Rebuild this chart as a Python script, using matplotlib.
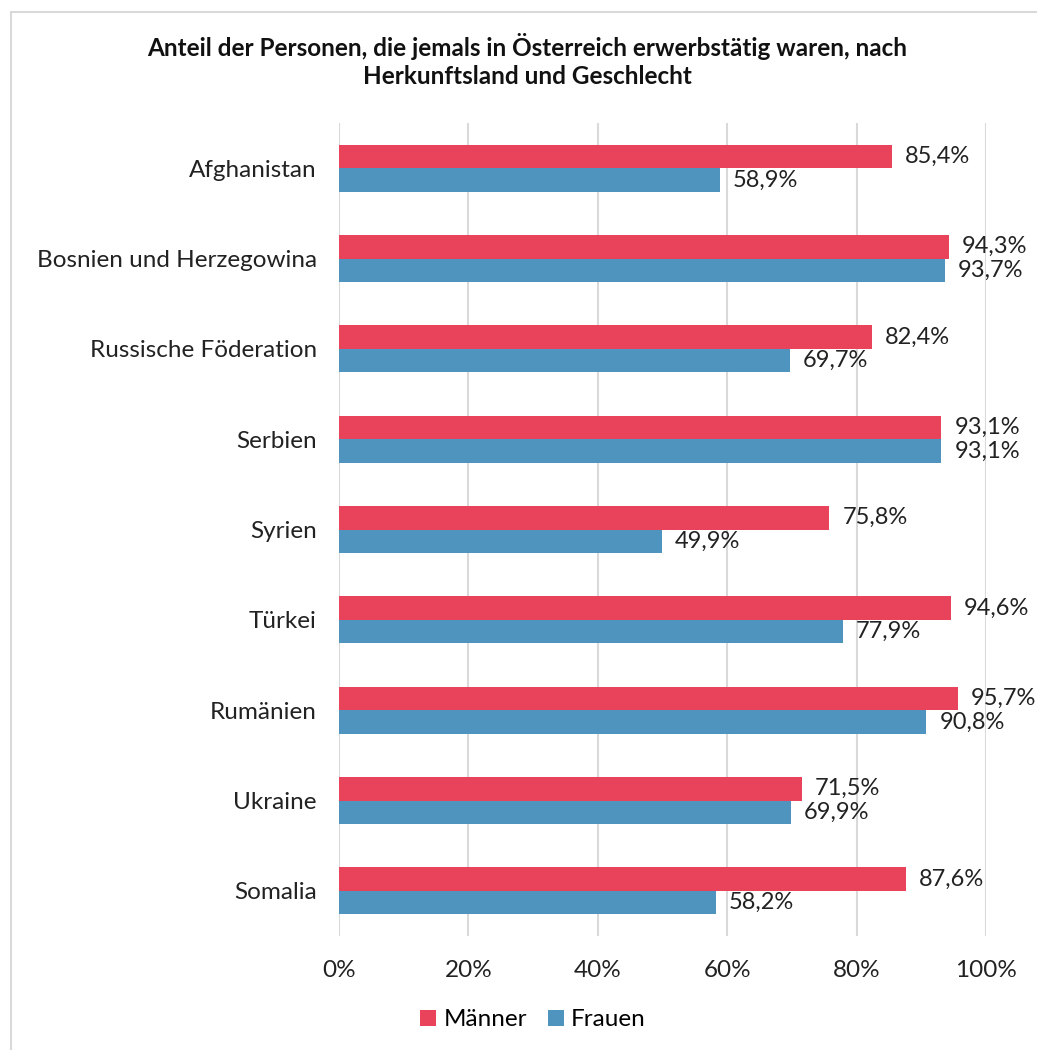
import matplotlib
matplotlib.use("Agg")
import matplotlib.pyplot as plt
from matplotlib.patches import Rectangle
import numpy as np

plt.rcParams['font.family'] = ['Lato', 'DejaVu Sans']

categories = ["Afghanistan", "Bosnien und Herzegowina", "Russische Föderation", "Serbien",
              "Syrien", "Türkei", "Rumänien", "Ukraine", "Somalia"]
maenner = [85.4, 94.3, 82.4, 93.1, 75.8, 94.6, 95.7, 71.5, 87.6]
frauen = [58.9, 93.7, 69.7, 93.1, 49.9, 77.9, 90.8, 69.9, 58.2]
xticks = [0, 20, 40, 60, 80, 100]
series_names = ["Männer", "Frauen"]

red = "#E8435A"
blue = "#4F94BE"
FS = 17.5
W, H = 1037, 1050
fig = plt.figure(figsize=(W / 100, H / 100), dpi=100)
ax = fig.add_axes([339 / W, 1 - 936 / H, (986 - 339) / W, (936 - 123) / H])

y = np.arange(len(categories))
bh = 0.26
ax.barh(y - bh / 2, maenner, height=bh, color=red, label=series_names[0], zorder=3)
ax.barh(y + bh / 2, frauen, height=bh, color=blue, label=series_names[1], zorder=3)

def fmt(v):
    return f"{v:.1f}%".replace(".", ",")

for i in range(len(categories)):
    ax.text(maenner[i] + 2.0, y[i] - bh / 2, fmt(maenner[i]), va="center", ha="left",
            fontsize=17, color="#222222", zorder=4)
    ax.text(frauen[i] + 2.0, y[i] + bh / 2, fmt(frauen[i]), va="center", ha="left",
            fontsize=17, color="#222222", zorder=4)

ax.set_ylim(len(categories) - 0.5, -0.5)
ax.set_xlim(0, 100)
ax.set_yticks(y)
ax.set_yticklabels(categories, fontsize=FS, color="#222222")
ax.set_xticks(xticks)
ax.set_xticklabels([f"{t}%" for t in xticks], fontsize=FS, color="#222222")
ax.tick_params(axis="both", length=0)
ax.tick_params(axis="y", pad=16)
ax.tick_params(axis="x", pad=17)
for s in ax.spines.values():
    s.set_visible(False)
ax.grid(axis="x", color="#d9d9d9", linewidth=1.5, zorder=0)
ax.set_axisbelow(True)

fig.text(527 / W, 1 - 47 / H, "Anteil der Personen, die jemals in Österreich erwerbstätig waren, nach",
         ha="center", va="center", fontsize=17.5, fontweight="bold", color="#111111")
fig.text(527 / W, 1 - 77 / H, "Herkunftsland und Geschlecht",
         ha="center", va="center", fontsize=17.5, fontweight="bold", color="#111111")

leg = fig.legend(loc="center", bbox_to_anchor=(533 / W, 1 - 1020 / H), ncol=2, frameon=False,
                 fontsize=FS, handlelength=0.65, handleheight=0.65, handletextpad=0.3,
                 columnspacing=0.85)

fig.patches.append(Rectangle((11 / W, -0.1), 1.2, 1 - 12 / H + 0.1, transform=fig.transFigure,
                             fill=False, edgecolor="#d9d9d9", linewidth=1.5))

fig.savefig("out.png", dpi=100, facecolor="white")
